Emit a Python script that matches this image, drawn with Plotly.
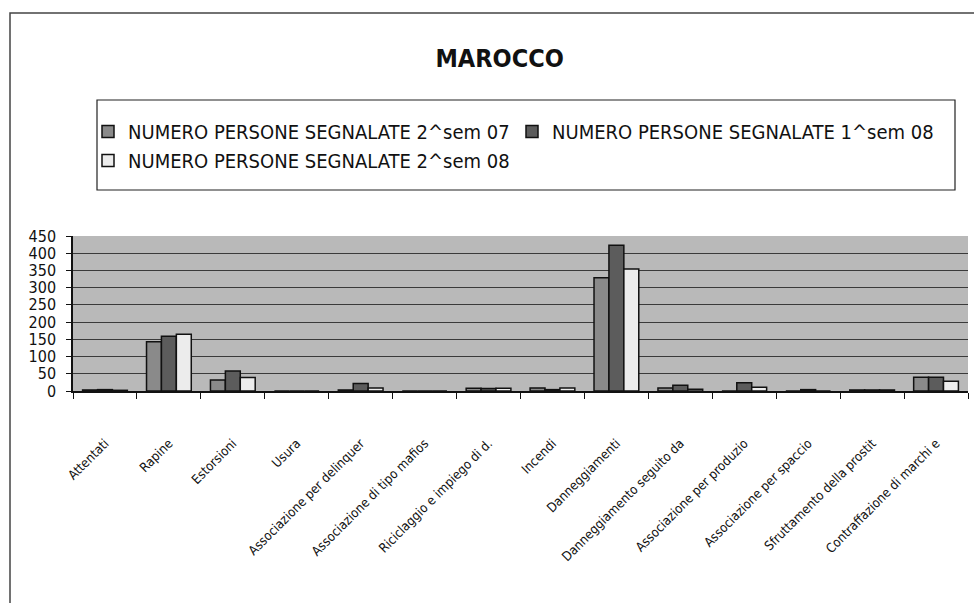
import plotly.graph_objects as go

categories = [
    "Attentati", "Rapine", "Estorsioni", "Usura",
    "Associazione per delinquer", "Associazione di tipo mafios",
    "Riciclaggio e impiego di d.", "Incendi", "Danneggiamenti",
    "Danneggiamento seguito da", "Associazione per produzio",
    "Associazione per spaccio", "Sfruttamento della prostit",
    "Contraffazione di marchi e",
]
sem2_07 = [3, 143, 32, 0, 3, 0, 8, 9, 329, 9, 0, 0, 3, 40]
sem1_08 = [4, 159, 58, 0, 22, 0, 7, 4, 423, 17, 24, 4, 3, 40]
sem2_08 = [2, 165, 39, 0, 9, 0, 8, 9, 354, 5, 11, 0, 3, 28]
series_names = [
    "NUMERO PERSONE SEGNALATE 2^sem 07",
    "NUMERO PERSONE SEGNALATE 1^sem 08",
    "NUMERO PERSONE SEGNALATE 2^sem 08",
]
y_ticks = [0, 50, 100, 150, 200, 250, 300, 350, 400, 450]

colors = ["#8a8a8a", "#5c5c5c", "#ececec"]
NARROW = "DejaVu Sans Condensed, Liberation Sans Narrow, sans-serif"

W, H = 974, 603
ML, MR, MT, MB = 73, 6, 236, 212
pw = W - ML - MR
ph = H - MT - MB

fig = go.Figure()
for name, vals, c in zip(series_names, [sem2_07, sem1_08, sem2_08], colors):
    fig.add_trace(go.Bar(
        x=categories, y=vals, name=name,
        marker=dict(color=c, line=dict(color="#111111", width=1.5)),
    ))

def px_to_paper_x(px):
    return (px - ML) / pw

def px_to_paper_y(py):
    return (H - MB - py) / ph

fig.update_layout(
    width=W, height=H,
    margin=dict(l=ML, r=MR, t=MT, b=MB),
    paper_bgcolor="white",
    plot_bgcolor="#b9b9b9",
    barmode="group",
    bargap=0.3,
    bargroupgap=0,
    title=dict(
        text="<b>MAROCCO</b>", x=0.513, xanchor="center",
        y=1 - 58 / H, yanchor="middle",
        font=dict(family=NARROW, size=25, color="#111111"),
    ),
    legend=dict(
        orientation="h",
        x=px_to_paper_x(88), xanchor="left",
        y=px_to_paper_y(146), yanchor="middle",
        bgcolor="rgba(0,0,0,0)", borderwidth=0,
        font=dict(family=NARROW, size=20, color="#111111"),
        entrywidth=379, entrywidthmode="pixels",
        itemwidth=30,
        traceorder="normal",
    ),
    xaxis=dict(
        showline=True, linecolor="#111111", linewidth=1.5,
        ticks="outside", ticklen=6, tickcolor="#111111",
        tickson="boundaries",
        tickangle=-45,
        tickfont=dict(family=NARROW, size=13, color="#111111"),
        ticklabelstandoff=38,
        showgrid=False,
    ),
    yaxis=dict(
        range=[0, 450],
        tickvals=y_ticks,
        showline=True, linecolor="#111111", linewidth=1.5,
        ticks="outside", ticklen=5, tickcolor="#111111",
        tickfont=dict(family=NARROW, size=16, color="#111111"),
        ticklabelstandoff=7,
        showgrid=True, gridcolor="#3a3a3a", gridwidth=1,
        zeroline=False,
    ),
    shapes=[
        dict(
            type="rect", xref="paper", yref="paper",
            x0=px_to_paper_x(10), x1=px_to_paper_x(990),
            y0=px_to_paper_y(620), y1=px_to_paper_y(13),
            line=dict(color="#444444", width=1.5),
            fillcolor="rgba(0,0,0,0)", layer="below",
        ),
        dict(
            type="rect", xref="paper", yref="paper",
            x0=px_to_paper_x(97), x1=px_to_paper_x(955),
            y0=px_to_paper_y(190), y1=px_to_paper_y(100),
            line=dict(color="#222222", width=1.2),
            fillcolor="white", layer="below",
        ),
    ],
)

fig.write_html(
    "out.html",
    config={"displayModeBar": False},
    post_script="document.body.style.margin='0px';",
)
